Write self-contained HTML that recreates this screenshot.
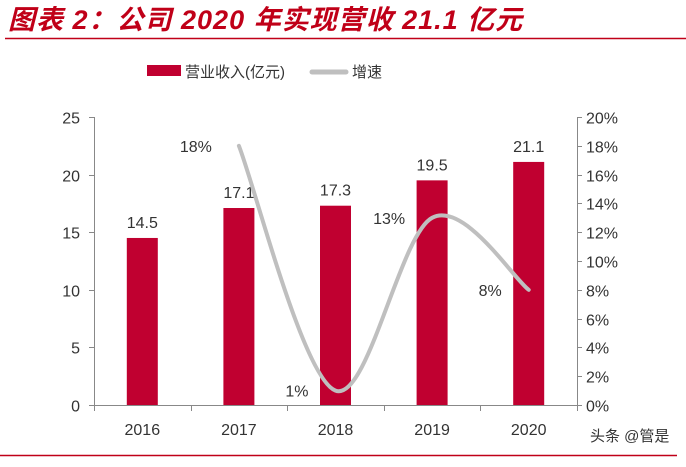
<!DOCTYPE html>
<html><head><meta charset="utf-8"><style>
body{margin:0;background:#fff;width:686px;height:462px;overflow:hidden}
svg text{font-family:"Liberation Sans","Noto Sans CJK SC",sans-serif}
</style></head><body>
<svg id="c" width="686" height="462">
<text x="8" y="29" font-size="27" font-weight="bold" font-style="italic" fill="#c00018" letter-spacing="1">图表 2：公司 2020 年实现营收 21.1 亿元</text>
<line x1="5" y1="38.5" x2="686" y2="38.5" stroke="#c00018" stroke-width="1.5"/>
<g>
<rect x="147" y="65" width="34" height="11" fill="#c00030"/>
<text x="185" y="77" font-size="15" fill="#333">营业收入(亿元)</text>
<line x1="312" y1="72" x2="346" y2="72" stroke="#bfbfbf" stroke-width="5" stroke-linecap="round"/>
<text x="352" y="77" font-size="15" fill="#333">增速</text>
</g>
<g id="plot"></g>
<text x="590" y="441" font-size="15" fill="#333">头条 @管是</text>
<line x1="0" y1="455.5" x2="677" y2="455.5" stroke="#c00018" stroke-width="1.5"/>
</svg>
<script>
const categories=["2016","2017","2018","2019","2020"];
const revenue=[14.5,17.1,17.3,19.5,21.1];
const growth=[null,18,1,13,8];
const leftTicks=[0,5,10,15,20,25];
const rightTicks=[0,2,4,6,8,10,12,14,16,18,20];
const NS="http://www.w3.org/2000/svg";
const g=document.getElementById('plot');
const X0=94,X1=577,Y0=405,Y1=117;
const band=(X1-X0)/categories.length;
const xc=i=>X0+band*(i+0.5);
const yl=v=>Y0-(v/25)*(Y0-Y1);
const yr=v=>Y0-(v/20)*(Y0-Y1);
function mk(t,a,p){const e=document.createElementNS(NS,t);for(const k in a)e.setAttribute(k,a[k]);(p||g).appendChild(e);return e;}
let e;
e=mk('line',{x1:X0+0.5,y1:Y1,x2:X0+0.5,y2:Y0,stroke:'#888'});


e=mk('line',{x1:X1+0.5,y1:Y1,x2:X1+0.5,y2:Y0,stroke:'#888'});


e=mk('line',{x1:X0,y1:Y0+0.5,x2:X1,y2:Y0+0.5,stroke:'#888'});


leftTicks.forEach(v=>{const y=Math.round(yl(v))+0.5;
mk('line',{x1:X0-5,y1:y,x2:X0,y2:y,stroke:'#888'});
e=mk('text',{x:X0-14,y:y+6,'text-anchor':'end','font-size':16,fill:'#333'});e.textContent=v;

});
rightTicks.forEach(v=>{const y=Math.round(yr(v))+0.5;
mk('line',{x1:X1,y1:y,x2:X1+5,y2:y,stroke:'#888'});
e=mk('text',{x:X1+9,y:y+6,'font-size':16,fill:'#333'});e.textContent=v+'%';

});
for(let i=0;i<=categories.length;i++){const x=Math.round(X0+band*i)+0.5;mk('line',{x1:x,y1:Y0,x2:x,y2:Y0+6,stroke:'#888'});}
categories.forEach((c,i)=>{
e=mk('text',{x:xc(i),y:Y0+30,'text-anchor':'middle','font-size':16,fill:'#333'});e.textContent=c;


const bw=31,y=yl(revenue[i]);
e=mk('rect',{x:xc(i)-bw/2,y:y,width:bw,height:Y0-y,fill:'#c00030'});


e=mk('text',{x:xc(i),y:y-10,'text-anchor':'middle','font-size':16,fill:'#333'});e.textContent=revenue[i].toFixed(1);


});
const pts=[];growth.forEach((v,i)=>{if(v!==null)pts.push([xc(i),yr(v),v]);});
let d='M'+pts[0][0]+','+pts[0][1];
for(let i=0;i<pts.length-1;i++){const p0=pts[Math.max(i-1,0)],p1=pts[i],p2=pts[i+1],p3=pts[Math.min(i+2,pts.length-1)];
d+=' C'+(p1[0]+(p2[0]-p0[0])/6)+','+(p1[1]+(p2[1]-p0[1])/6)+' '+(p2[0]-(p3[0]-p1[0])/6)+','+(p2[1]-(p3[1]-p1[1])/6)+' '+p2[0]+','+p2[1];}
e=mk('path',{d:d,fill:'none',stroke:'#bfbfbf','stroke-width':4,'stroke-linecap':'round'});


pts.forEach(p=>{e=mk('text',{x:p[0]-27,y:p[1]+6,'text-anchor':'end','font-size':16,fill:'#333'});e.textContent=p[2]+'%';

});
</script>
</body></html>
